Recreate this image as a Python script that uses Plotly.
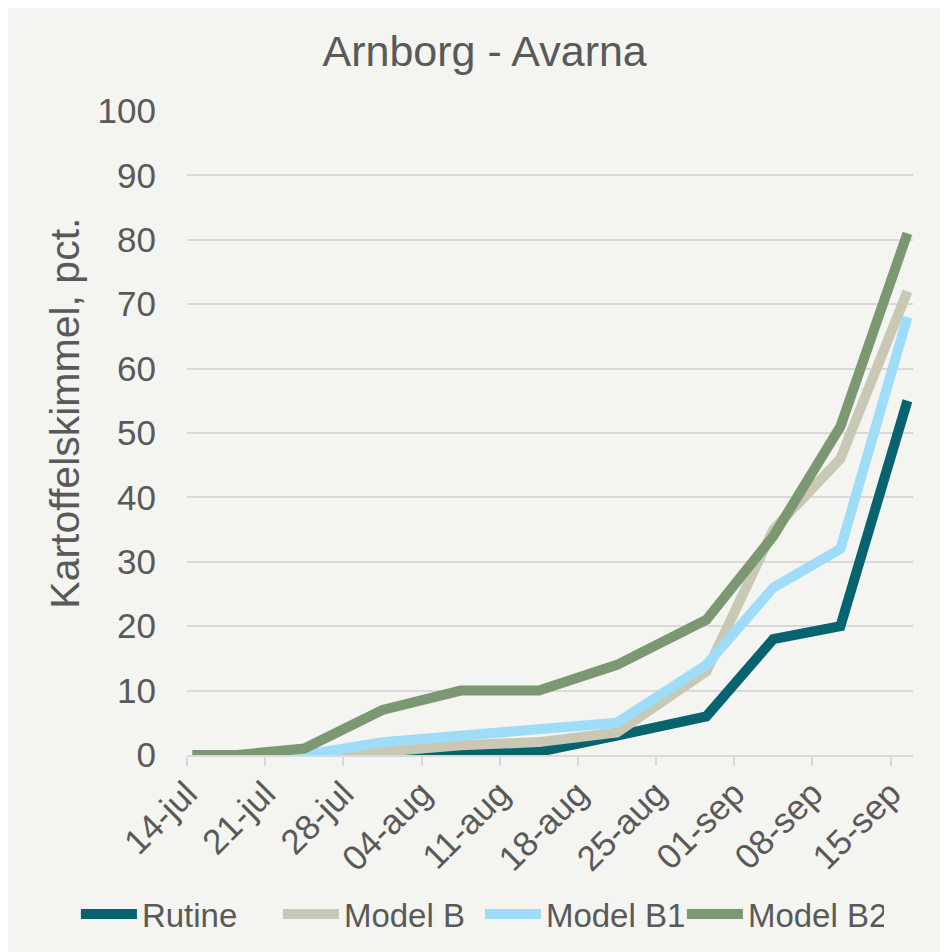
import plotly.graph_objects as go

dates = ["2023-07-14", "2023-07-18", "2023-07-24", "2023-07-31", "2023-08-07",
         "2023-08-14", "2023-08-21", "2023-08-29", "2023-09-04", "2023-09-10",
         "2023-09-16"]
rutine = [0, 0, 0, 0, 0.5, 0.5, 3, 6, 18, 20, 55]
model_b = [0, 0, 0, 0.5, 1.5, 2, 3.5, 13, 35, 46, 72]
model_b1 = [0, 0, 0, 2, 3, 4, 5, 14, 26, 32, 68]
model_b2 = [0, 0, 1, 7, 10, 10, 14, 21, 34, 51, 81]

tick_dates = ["2023-07-14", "2023-07-21", "2023-07-28", "2023-08-04", "2023-08-11",
              "2023-08-18", "2023-08-25", "2023-09-01", "2023-09-08", "2023-09-15"]
tick_labels = ["14-jul", "21-jul", "28-jul", "04-aug", "11-aug",
               "18-aug", "25-aug", "01-sep", "08-sep", "15-sep"]

series = [
    ("Rutine", rutine, "#07646f"),
    ("Model B", model_b, "#c8c8b4"),
    ("Model B1", model_b1, "#9fdcf8"),
    ("Model B2", model_b2, "#7b9873"),
]

fig = go.Figure()
for name, vals, col in series:
    fig.add_trace(go.Scatter(
        x=dates, y=vals, name=name, mode="lines",
        line=dict(color=col, width=10),
        xperiod=86400000, xperiodalignment="middle",
    ))

txt = "#595959"
W, H = 940, 944
fig.update_layout(
    width=W, height=H,
    paper_bgcolor="#f4f4f0", plot_bgcolor="#f4f4f0",
    font=dict(family="Liberation Sans, Arial, sans-serif", color=txt, size=33),
    margin=dict(l=179, r=35, t=103, b=197, autoexpand=False),
    title=dict(text="Arnborg - Avarna", x=0.41, xref="paper", xanchor="center",
               y=1 - 43 / H, yanchor="middle",
               font=dict(size=43, color=txt)),
    showlegend=True,
    legend=dict(orientation="h", x=-0.153, xanchor="left", y=-0.247, yanchor="middle",
                font=dict(size=33, color=txt), bgcolor="rgba(0,0,0,0)",
                itemwidth=56, entrywidth=131, entrywidthmode="pixels",
                tracegroupgap=0),
    xaxis=dict(
        type="date", range=["2023-07-14", "2023-09-17"],
        tickmode="array", tickvals=tick_dates, ticktext=tick_labels,
        tickangle=-45, ticks="outside", ticklen=9, tickwidth=2, tickcolor="#d9d9d9",
        showline=True, linecolor="#d9d9d9", linewidth=2,
        showgrid=False, zeroline=False, automargin=False,
        tickfont=dict(size=35, color=txt), ticklabelstandoff=-7,
    ),
    yaxis=dict(
        range=[0, 100], dtick=10, tick0=0,
        showgrid=True, gridcolor="#d9d9d9", gridwidth=2,
        zeroline=False, showline=False, ticks="",
        ticklabelstandoff=30, automargin=False,
        tickfont=dict(size=35, color=txt),
    ),
    annotations=[dict(
        text="Kartoffelskimmel, pct.", textangle=-90, showarrow=False,
        xref="paper", yref="paper", x=-0.168, y=0.53,
        xanchor="center", yanchor="middle",
        font=dict(size=41, color=txt),
    )],
)

fig.write_html("out.html")
